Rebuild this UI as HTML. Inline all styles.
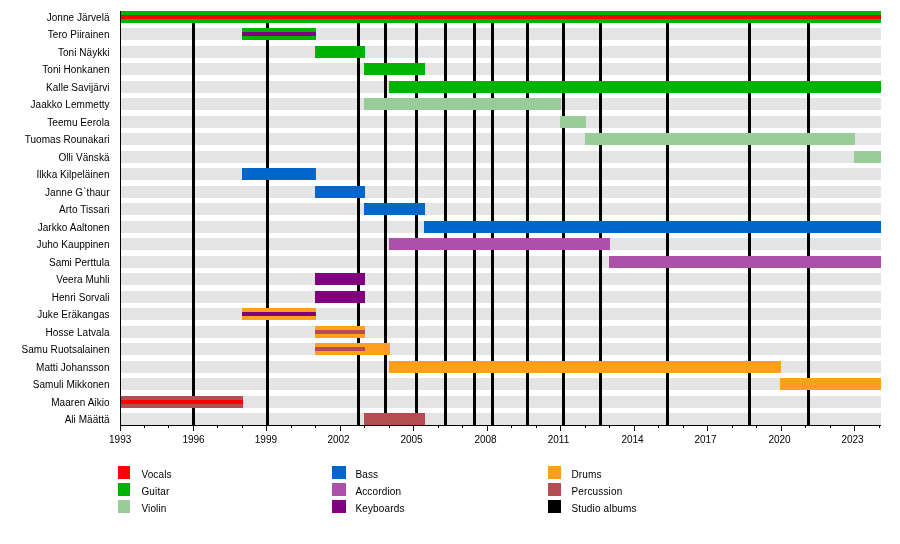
<!DOCTYPE html><html><head><meta charset="utf-8"><style>html,body{margin:0;padding:0;background:#fff;width:900px;height:544px;overflow:hidden}svg{display:block;will-change:transform}text{font-family:"Liberation Sans",sans-serif;font-size:10px;fill:#000}</style></head><body>
<svg width="900" height="544" viewBox="0 0 900 544" shape-rendering="crispEdges">
<rect x="0" y="0" width="900" height="544" fill="#fff"/>
<rect x="121" y="11" width="760" height="12" fill="#e4e4e4"/>
<rect x="121" y="28" width="760" height="12" fill="#e4e4e4"/>
<rect x="121" y="46" width="760" height="12" fill="#e4e4e4"/>
<rect x="121" y="63" width="760" height="12" fill="#e4e4e4"/>
<rect x="121" y="81" width="760" height="12" fill="#e4e4e4"/>
<rect x="121" y="98" width="760" height="12" fill="#e4e4e4"/>
<rect x="121" y="116" width="760" height="12" fill="#e4e4e4"/>
<rect x="121" y="133" width="760" height="12" fill="#e4e4e4"/>
<rect x="121" y="151" width="760" height="12" fill="#e4e4e4"/>
<rect x="121" y="168" width="760" height="12" fill="#e4e4e4"/>
<rect x="121" y="186" width="760" height="12" fill="#e4e4e4"/>
<rect x="121" y="203" width="760" height="12" fill="#e4e4e4"/>
<rect x="121" y="221" width="760" height="12" fill="#e4e4e4"/>
<rect x="121" y="238" width="760" height="12" fill="#e4e4e4"/>
<rect x="121" y="256" width="760" height="12" fill="#e4e4e4"/>
<rect x="121" y="273" width="760" height="12" fill="#e4e4e4"/>
<rect x="121" y="291" width="760" height="12" fill="#e4e4e4"/>
<rect x="121" y="308" width="760" height="12" fill="#e4e4e4"/>
<rect x="121" y="326" width="760" height="12" fill="#e4e4e4"/>
<rect x="121" y="343" width="760" height="12" fill="#e4e4e4"/>
<rect x="121" y="361" width="760" height="12" fill="#e4e4e4"/>
<rect x="121" y="378" width="760" height="12" fill="#e4e4e4"/>
<rect x="121" y="396" width="760" height="12" fill="#e4e4e4"/>
<rect x="121" y="413" width="760" height="12" fill="#e4e4e4"/>
<rect x="192" y="11" width="3" height="414" fill="#000"/>
<rect x="266" y="11" width="3" height="414" fill="#000"/>
<rect x="357" y="11" width="3" height="414" fill="#000"/>
<rect x="384" y="11" width="3" height="414" fill="#000"/>
<rect x="415" y="11" width="3" height="414" fill="#000"/>
<rect x="444" y="11" width="3" height="414" fill="#000"/>
<rect x="473" y="11" width="3" height="414" fill="#000"/>
<rect x="491" y="11" width="3" height="414" fill="#000"/>
<rect x="526" y="11" width="3" height="414" fill="#000"/>
<rect x="562" y="11" width="3" height="414" fill="#000"/>
<rect x="599" y="11" width="3" height="414" fill="#000"/>
<rect x="666" y="11" width="3" height="414" fill="#000"/>
<rect x="748" y="11" width="3" height="414" fill="#000"/>
<rect x="807" y="11" width="3" height="414" fill="#000"/>
<rect x="121" y="11" width="760" height="12" fill="#00b300"/>
<rect x="242" y="28" width="74" height="12" fill="#00b300"/>
<rect x="315" y="46" width="50" height="12" fill="#00b300"/>
<rect x="364" y="63" width="61" height="12" fill="#00b300"/>
<rect x="389" y="81" width="492" height="12" fill="#00b300"/>
<rect x="364" y="98" width="197" height="12" fill="#99cc99"/>
<rect x="560" y="116" width="26" height="12" fill="#99cc99"/>
<rect x="585" y="133" width="270" height="12" fill="#99cc99"/>
<rect x="854" y="151" width="27" height="12" fill="#99cc99"/>
<rect x="242" y="168" width="74" height="12" fill="#0066cc"/>
<rect x="315" y="186" width="50" height="12" fill="#0066cc"/>
<rect x="364" y="203" width="61" height="12" fill="#0066cc"/>
<rect x="424" y="221" width="457" height="12" fill="#0066cc"/>
<rect x="389" y="238" width="221" height="12" fill="#ad50aa"/>
<rect x="609" y="256" width="272" height="12" fill="#ad50aa"/>
<rect x="315" y="273" width="50" height="12" fill="#800080"/>
<rect x="315" y="291" width="50" height="12" fill="#800080"/>
<rect x="242" y="308" width="74" height="12" fill="#ff9e1f"/>
<rect x="315" y="326" width="50" height="12" fill="#ff9e1f"/>
<rect x="315" y="343" width="75" height="12" fill="#ff9e1f"/>
<rect x="389" y="361" width="392" height="12" fill="#ff9e1f"/>
<rect x="780" y="378" width="101" height="12" fill="#ff9e1f"/>
<rect x="121" y="396" width="122" height="12" fill="#b34d52"/>
<rect x="364" y="413" width="61" height="12" fill="#b34d52"/>
<rect x="121" y="15" width="760" height="4" fill="#ff0000"/>
<rect x="242" y="32" width="74" height="4" fill="#800080"/>
<rect x="242" y="312" width="74" height="4" fill="#800080"/>
<rect x="315" y="330" width="50" height="4" fill="#b34d52"/>
<rect x="315" y="347" width="50" height="4" fill="#b34d52"/>
<rect x="121" y="400" width="122" height="4" fill="#ff0000"/>
<rect x="120" y="11" width="1" height="420" fill="#000"/>
<rect x="120" y="425" width="761" height="1" fill="#000"/>
<rect x="120" y="425" width="1" height="6" fill="#000"/>
<text x="120.2" y="442.5" text-anchor="middle">1993</text>
<rect x="144" y="425" width="1" height="3" fill="#000"/>
<rect x="168" y="425" width="1" height="3" fill="#000"/>
<rect x="193" y="425" width="1" height="6" fill="#000"/>
<text x="193.5" y="442.5" text-anchor="middle">1996</text>
<rect x="217" y="425" width="1" height="3" fill="#000"/>
<rect x="242" y="425" width="1" height="3" fill="#000"/>
<rect x="266" y="425" width="1" height="6" fill="#000"/>
<text x="265.9" y="442.5" text-anchor="middle">1999</text>
<rect x="291" y="425" width="1" height="3" fill="#000"/>
<rect x="315" y="425" width="1" height="3" fill="#000"/>
<rect x="340" y="425" width="1" height="6" fill="#000"/>
<text x="338.5" y="442.5" text-anchor="middle">2002</text>
<rect x="364" y="425" width="1" height="3" fill="#000"/>
<rect x="389" y="425" width="1" height="3" fill="#000"/>
<rect x="413" y="425" width="1" height="6" fill="#000"/>
<text x="411.5" y="442.5" text-anchor="middle">2005</text>
<rect x="438" y="425" width="1" height="3" fill="#000"/>
<rect x="462" y="425" width="1" height="3" fill="#000"/>
<rect x="487" y="425" width="1" height="6" fill="#000"/>
<text x="485.5" y="442.5" text-anchor="middle">2008</text>
<rect x="511" y="425" width="1" height="3" fill="#000"/>
<rect x="536" y="425" width="1" height="3" fill="#000"/>
<rect x="560" y="425" width="1" height="6" fill="#000"/>
<text x="558.5" y="442.5" text-anchor="middle">2011</text>
<rect x="585" y="425" width="1" height="3" fill="#000"/>
<rect x="609" y="425" width="1" height="3" fill="#000"/>
<rect x="634" y="425" width="1" height="6" fill="#000"/>
<text x="632.5" y="442.5" text-anchor="middle">2014</text>
<rect x="658" y="425" width="1" height="3" fill="#000"/>
<rect x="683" y="425" width="1" height="3" fill="#000"/>
<rect x="707" y="425" width="1" height="6" fill="#000"/>
<text x="705.5" y="442.5" text-anchor="middle">2017</text>
<rect x="732" y="425" width="1" height="3" fill="#000"/>
<rect x="756" y="425" width="1" height="3" fill="#000"/>
<rect x="781" y="425" width="1" height="6" fill="#000"/>
<text x="779.5" y="442.5" text-anchor="middle">2020</text>
<rect x="805" y="425" width="1" height="3" fill="#000"/>
<rect x="830" y="425" width="1" height="3" fill="#000"/>
<rect x="854" y="425" width="1" height="6" fill="#000"/>
<text x="852.5" y="442.5" text-anchor="middle">2023</text>
<rect x="879" y="425" width="1" height="3" fill="#000"/>
<g style="letter-spacing:0.05px">
<text x="109.6" y="20.7" text-anchor="end">Jonne Järvelä</text>
<text x="109.6" y="37.7" text-anchor="end">Tero Piirainen</text>
<text x="109.6" y="55.7" text-anchor="end">Toni Näykki</text>
<text x="109.6" y="72.7" text-anchor="end">Toni Honkanen</text>
<text x="109.6" y="90.7" text-anchor="end">Kalle Savijärvi</text>
<text x="109.6" y="107.7" text-anchor="end">Jaakko Lemmetty</text>
<text x="109.6" y="125.7" text-anchor="end">Teemu Eerola</text>
<text x="109.6" y="142.7" text-anchor="end">Tuomas Rounakari</text>
<text x="109.6" y="160.7" text-anchor="end">Olli Vänskä</text>
<text x="109.6" y="177.7" text-anchor="end">Ilkka Kilpeläinen</text>
<text x="109.6" y="195.7" text-anchor="end">Janne G`thaur</text>
<text x="109.6" y="212.7" text-anchor="end">Arto Tissari</text>
<text x="109.6" y="230.7" text-anchor="end">Jarkko Aaltonen</text>
<text x="109.6" y="247.7" text-anchor="end">Juho Kauppinen</text>
<text x="109.6" y="265.7" text-anchor="end">Sami Perttula</text>
<text x="109.6" y="282.7" text-anchor="end">Veera Muhli</text>
<text x="109.6" y="300.7" text-anchor="end">Henri Sorvali</text>
<text x="109.6" y="317.7" text-anchor="end">Juke Eräkangas</text>
<text x="109.6" y="335.7" text-anchor="end">Hosse Latvala</text>
<text x="109.6" y="352.7" text-anchor="end">Samu Ruotsalainen</text>
<text x="109.6" y="370.7" text-anchor="end">Matti Johansson</text>
<text x="109.6" y="387.7" text-anchor="end">Samuli Mikkonen</text>
<text x="109.6" y="405.7" text-anchor="end">Maaren Aikio</text>
<text x="109.6" y="422.7" text-anchor="end">Ali Määttä</text>
</g>
<rect x="118" y="466" width="12" height="13" fill="#ff0000"/>
<text x="141.4" y="478" style="letter-spacing:0.15px">Vocals</text>
<rect x="118" y="483" width="12" height="13" fill="#00b300"/>
<text x="141.4" y="495" style="letter-spacing:0.15px">Guitar</text>
<rect x="118" y="500" width="12" height="13" fill="#99cc99"/>
<text x="141.4" y="512" style="letter-spacing:0.15px">Violin</text>
<rect x="332" y="466" width="14" height="13" fill="#0066cc"/>
<text x="355.4" y="478" style="letter-spacing:0.15px">Bass</text>
<rect x="332" y="483" width="14" height="13" fill="#ad50aa"/>
<text x="355.4" y="495" style="letter-spacing:0.15px">Accordion</text>
<rect x="332" y="500" width="14" height="13" fill="#800080"/>
<text x="355.4" y="512" style="letter-spacing:0.15px">Keyboards</text>
<rect x="548" y="466" width="13" height="13" fill="#ff9e1f"/>
<text x="571.4" y="478" style="letter-spacing:0.15px">Drums</text>
<rect x="548" y="483" width="13" height="13" fill="#b34d52"/>
<text x="571.4" y="495" style="letter-spacing:0.15px">Percussion</text>
<rect x="548" y="500" width="13" height="13" fill="#000000"/>
<text x="571.4" y="512" style="letter-spacing:0.15px">Studio albums</text>
</svg></body></html>
